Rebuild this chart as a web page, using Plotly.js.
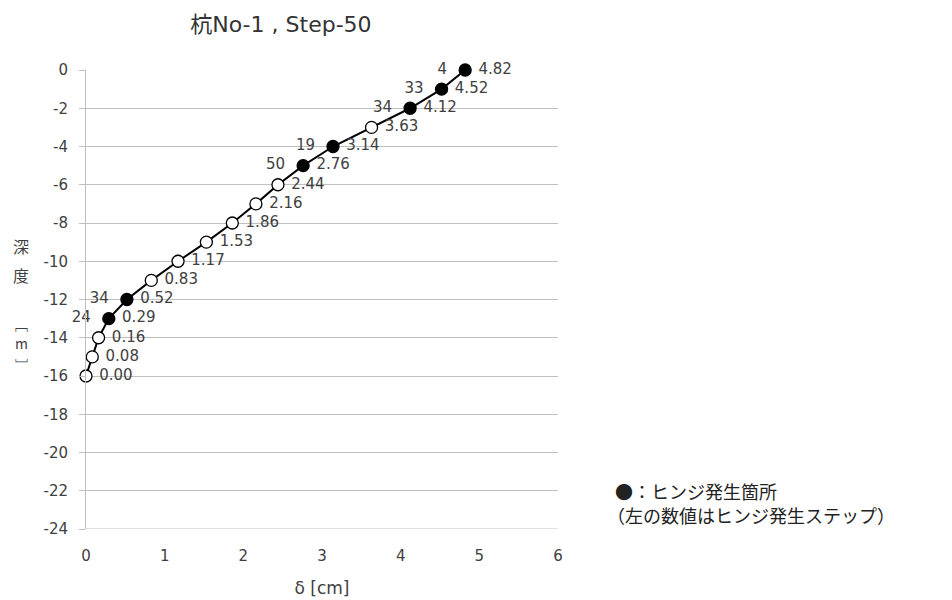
<!DOCTYPE html>
<html><head><meta charset="utf-8">
<script src="https://cdn.plot.ly/plotly-3.0.1.min.js"></script>
<style>body{margin:0;background:#fff}#c{width:952px;height:600px}</style>
</head><body><div id="c"></div>
<script>
const depth = [0,-1,-2,-3,-4,-5,-6,-7,-8,-9,-10,-11,-12,-13,-14,-15,-16];
const delta = [4.82,4.52,4.12,3.63,3.14,2.76,2.44,2.16,1.86,1.53,1.17,0.83,0.52,0.29,0.16,0.08,0.00];
const hinge = [true,true,true,false,true,true,false,false,false,false,false,false,true,true,false,false,false];
const hingeStep = ["4","33","34","","19","50","","","","","","","34","24","","",""];
const valueLabels = delta.map(v => v.toFixed(2));
const yTicks = [0,-2,-4,-6,-8,-10,-12,-14,-16,-18,-20,-22,-24];
const xTicks = [0,1,2,3,4,5,6];
const yTitleChars = ['深','度','﹇','m','﹈'];

const numFont = "'DejaVu Sans', 'Noto Sans CJK JP', sans-serif";
const cjkFont = "'Noto Sans CJK JP', 'DejaVu Sans', sans-serif";
const txtColor = '#404040';
const NB = '\u00a0';

const main = {
  x: delta, y: depth, type: 'scatter', mode: 'lines+markers+text',
  line: {color: '#000', width: 2},
  marker: {size: 12, color: hinge.map(h => h ? '#000' : '#fff'), line: {color: '#000', width: 1.3}},
  text: valueLabels.map(t => NB + t), textposition: 'middle right',
  textfont: {family: numFont, size: 15, color: txtColor},
  cliponaxis: false, hoverinfo: 'none', showlegend: false
};
const hx = [], hy = [], ht = [];
for (let i = 0; i < depth.length; i++) if (hinge[i]) { hx.push(delta[i]); hy.push(depth[i]); ht.push(hingeStep[i] + NB + NB); }
const steps = {
  x: hx, y: hy, type: 'scatter', mode: 'markers+text',
  marker: {size: 12, color: 'rgba(0,0,0,0)'},
  text: ht, textposition: 'middle left',
  textfont: {family: numFont, size: 15, color: txtColor},
  cliponaxis: false, hoverinfo: 'none', showlegend: false
};

// y-axis title drawn as vertically stacked characters
const yTitleY = [0.6166, 0.5534, 0.4466, 0.4052, 0.3573];
const yTitleSize = [16, 16, 13, 14, 13];
const yTitleAnn = yTitleChars.map((c, i) => ({
  text: c, xref: 'paper', yref: 'paper', x: -0.1377, y: yTitleY[i], xanchor: 'center', yanchor: 'middle',
  showarrow: false, font: {family: cjkFont, size: yTitleSize[i], color: txtColor}
}));

const layout = {
  width: 952, height: 600,
  margin: {l: 86, r: 394, t: 70, b: 71},
  paper_bgcolor: '#fff', plot_bgcolor: '#fff',
  font: {family: numFont, color: txtColor, size: 15},
  title: {text: '杭No-1 , Step-50', font: {family: numFont, size: 22, color: '#333'},
          xref: 'paper', x: 0.413, xanchor: 'center', yref: 'container', y: 0.96, yanchor: 'middle'},
  xaxis: {range: [0, 6], tickvals: xTicks, ticktext: xTicks.map(String), showgrid: false, zeroline: false,
          showline: false, ticks: '', ticklabelstandoff: 16, tickfont: {family: numFont, size: 15, color: txtColor},
          title: {text: 'δ [cm]', font: {family: numFont, size: 17, color: txtColor}, standoff: 18}},
  yaxis: {range: [-24, 0], tickvals: yTicks, ticktext: yTicks.map(String), showgrid: true, gridcolor: '#bfbfbf', gridwidth: 1,
          zeroline: false, showline: true, linecolor: '#bfbfbf', linewidth: 1, ticks: 'outside', ticklen: 6, tickcolor: '#bfbfbf',
          ticklabelstandoff: 8, tickfont: {family: numFont, size: 15, color: txtColor}},
  shapes: [{type: 'line', xref: 'paper', yref: 'y', x0: 0, x1: 1, y0: -24, y1: -24, line: {color: '#bfbfbf', width: 1}}],
  annotations: yTitleAnn.concat([
    {text: '●：ヒンジ発生箇所', xref: 'paper', yref: 'paper', x: 1.1165, y: 0.0828, xanchor: 'left', yanchor: 'middle',
     showarrow: false, font: {family: cjkFont, size: 18, color: '#222'}},
    {text: '（左の数値はヒンジ発生ステップ）', xref: 'paper', yref: 'paper', x: 1.0996, y: 0.0305, xanchor: 'left', yanchor: 'middle',
     showarrow: false, font: {family: cjkFont, size: 18, color: '#222'}}
  ])
};
Plotly.newPlot('c', [main, steps], layout, {displayModeBar: false, staticPlot: true});
</script></body></html>
